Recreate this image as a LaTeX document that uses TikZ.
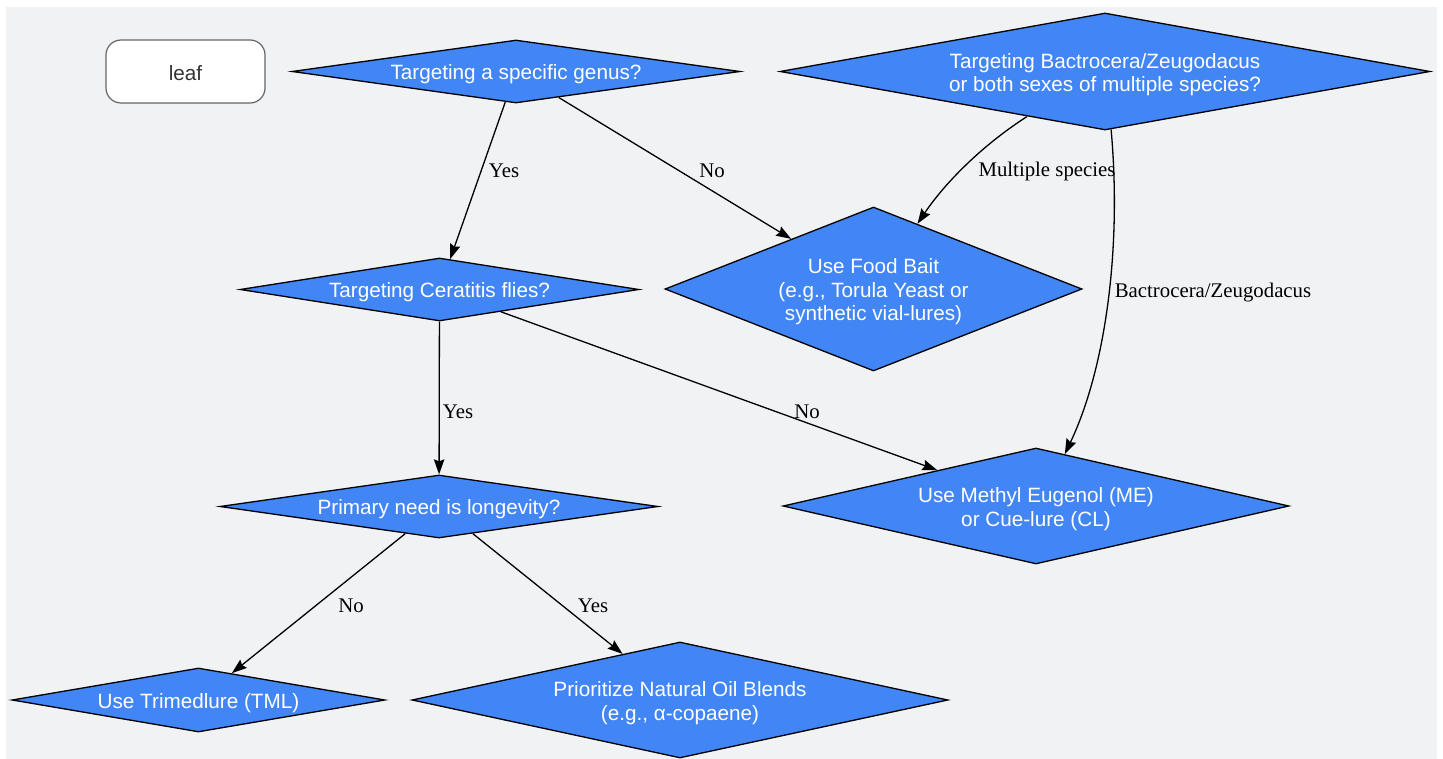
\documentclass[tikz,border=0pt]{standalone}
\usepackage{fontspec}
\setmainfont{Liberation Serif}
\newfontfamily\nodefont{Liberation Sans}
\usetikzlibrary{shapes.geometric,arrows.meta}
\definecolor{bgc}{HTML}{F1F2F4}
\definecolor{dblue}{HTML}{4285F4}
\definecolor{leafborder}{HTML}{666666}
\definecolor{leaftext}{HTML}{333333}
\begin{document}
\begin{tikzpicture}[x=1pt,y=-1pt,
  dec/.style={diamond, draw=black, line width=1.3pt, fill=dblue,
    inner sep=0pt},
  dtext/.style={text=white, align=center, inner sep=0pt, yshift=-3pt,
    font=\nodefont\fontsize{20.7}{23.4}\selectfont},
  leafbox/.style={rectangle, rounded corners=15pt, draw=leafborder, line width=1.2pt,
    fill=white, minimum width=159pt, minimum height=63pt},
  ltext/.style={text=leaftext, inner sep=0pt, yshift=-1.5pt,
    font=\nodefont\fontsize{20.7}{23.4}\selectfont},
  edge/.style={draw=black, line width=1.3pt, -{Stealth[length=15pt,width=10.5pt,inset=2pt]}},
  lbl/.style={font=\fontsize{20.8}{23}\selectfont, text=black, inner sep=0pt}
]
\useasboundingbox (0,0) rectangle (1443,759);
\fill[bgc] (6,7) rectangle (1437,759);

\node[leafbox, label={[ltext]center:leaf}] (leaf) at (185.5,71.5) {};
\node[dec, minimum width=448pt, minimum height=63pt,
  label={[dtext]center:Targeting a specific genus?}] (d1) at (516,71.5) {};
\node[dec, minimum width=650pt, minimum height=117pt,
  label={[dtext]center:Targeting Bactrocera/Zeugodacus\\or both sexes of multiple species?}] (d2) at (1105,71.5) {};
\node[dec, minimum width=399pt, minimum height=63pt,
  label={[dtext]center:Targeting Ceratitis flies?}] (d3) at (439.5,289.5) {};
\node[dec, minimum width=417pt, minimum height=164pt,
  label={[dtext]center:Use Food Bait\\(e.g., Torula Yeast or\\synthetic vial-lures)}] (d4) at (873.5,289) {};
\node[dec, minimum width=438pt, minimum height=63pt,
  label={[dtext]center:Primary need is longevity?}] (d5) at (439,506.5) {};
\node[dec, minimum width=506pt, minimum height=116pt,
  label={[dtext]center:Use Methyl Eugenol (ME)\\or Cue-lure (CL)}] (d6) at (1036,506) {};
\node[dec, minimum width=373pt, minimum height=64pt,
  label={[dtext]center:Use Trimedlure (TML)}] (d7) at (198.5,700) {};
\node[dec, minimum width=536pt, minimum height=116pt,
  label={[dtext]center:Prioritize Natural Oil Blends\\(e.g., α-copaene)}] (d8) at (680,700) {};

\draw[edge] (d1) -- (d3);
\draw[edge] (d1) -- (d4);
\draw[edge] (d2.210) .. controls (975,150) and (940,190) .. (d4.56);
\draw[edge] (d2.-84) .. controls (1122,250) and (1105,370) .. (d6.61);
\draw[edge] (d3) -- (d5);
\draw[edge] (d3) -- (d6);
\draw[edge] (d5) -- (d7);
\draw[edge] (d5) -- (d8);

\node[lbl] (l1) at (504,171) {Yes};
\node[lbl] (l2) at (712,171) {No};
\node[lbl] (l3) at (1047,171) {Multiple species};
\node[lbl] (l4) at (1213,293) {Bactrocera/Zeugodacus};
\node[lbl] (l5) at (458,412) {Yes};
\node[lbl] (l6) at (807,412) {No};
\node[lbl] (l7) at (351,606) {No};
\node[lbl] (l8) at (593,606) {Yes};
\end{tikzpicture}
\end{document}
